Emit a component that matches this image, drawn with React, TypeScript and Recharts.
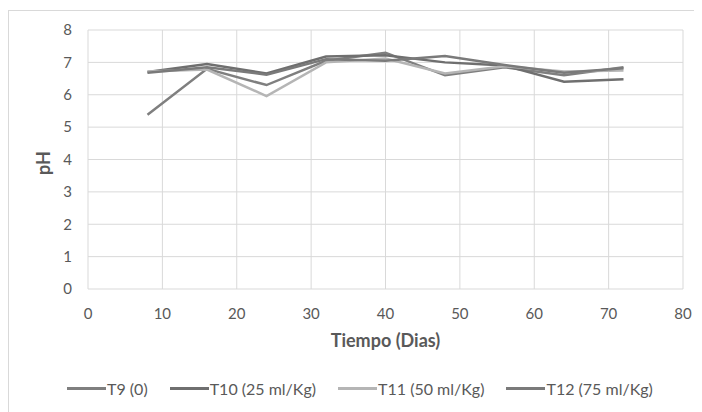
import React from "react";
import { LineChart, Line, XAxis, YAxis, CartesianGrid, Legend } from "recharts";

const days = [8, 16, 24, 32, 40, 48, 56, 64, 72];
const t9 = [5.38, 6.8, 6.3, 7.05, 7.3, 6.6, 6.85, 6.6, 6.85];
const t10 = [6.7, 6.95, 6.66, 7.18, 7.22, 7.0, 6.9, 6.4, 6.48];
const t11 = [6.72, 6.78, 5.96, 7.0, 7.12, 6.66, 6.88, 6.72, 6.75];
const t12 = [6.68, 6.85, 6.62, 7.1, 7.05, 7.2, 6.92, 6.68, 6.82];
const xTicks = [0, 10, 20, 30, 40, 50, 60, 70, 80];
const yTicks = [0, 1, 2, 3, 4, 5, 6, 7, 8];

const seriesNames = ["T9 (0)", "T10 (25 ml/Kg)", "T11 (50 ml/Kg)", "T12 (75 ml/Kg)"];
const seriesKeys = ["t9", "t10", "t11", "t12"];
const seriesColors = ["#7f7f7f", "#6f6f6f", "#b5b5b5", "#7a7a7a"];

const data = days.map((d, i) => ({ day: d, t9: t9[i], t10: t10[i], t11: t11[i], t12: t12[i] }));

const FONT = "Lato, 'Open Sans', sans-serif";
const TEXT = "#595959";

const LegendContent = () => (
  <div style={{ display: "flex", gap: 22, paddingLeft: 58, alignItems: "center", fontFamily: FONT, fontSize: 16, color: TEXT }}>
    {seriesNames.map((n, i) => (
      <div key={n} style={{ display: "flex", alignItems: "center" }}>
        <div style={{ width: 39, height: 3, background: seriesColors[i], marginRight: 1 }} />
        <span>{n}</span>
      </div>
    ))}
  </div>
);

export default function App() {
  return (
    <div style={{ marginTop: 2, borderLeft: "1px solid #d9d9d9", borderTop: "1px solid #d9d9d9", width: 693, height: 401, background: "#fff" }}>
      <LineChart width={693} height={401} data={data} margin={{ top: 19, right: 19, left: 0, bottom: 0 }}>
        <CartesianGrid stroke="#d9d9d9" strokeWidth={1} />
        <XAxis
          dataKey="day"
          type="number"
          domain={[0, 80]}
          ticks={xTicks}
          axisLine={false}
          tickLine={false}
          tickMargin={13}
          height={73}
          tick={{ fill: TEXT, fontSize: 15, fontFamily: FONT }}
          label={{ value: "Tiempo (Dias)", position: "insideBottom", offset: 15, fill: TEXT, fontSize: 18, fontWeight: 700, fontFamily: FONT }}
        />
        <YAxis
          type="number"
          domain={[0, 8]}
          ticks={yTicks}
          axisLine={false}
          tickLine={false}
          tickMargin={10}
          width={79}
          tick={{ fill: TEXT, fontSize: 15, fontFamily: FONT }}
          label={{
            content: () => (
              <text x={34} y={152} transform="rotate(-90, 34, 152)" textAnchor="middle" dominantBaseline="central" fill={TEXT} fontSize={18} fontWeight={700} fontFamily={FONT}>
                pH
              </text>
            ),
          }}
        />
        <Legend verticalAlign="bottom" height={50} content={<LegendContent />} wrapperStyle={{ top: 368, left: 0, width: 693 }} />
        {seriesKeys.map((k, i) => (
          <Line
            key={k}
            dataKey={k}
            name={seriesNames[i]}
            stroke={seriesColors[i]}
            strokeWidth={2.5}
            dot={false}
            isAnimationActive={false}
            type="linear"
          />
        ))}
      </LineChart>
    </div>
  );
}
